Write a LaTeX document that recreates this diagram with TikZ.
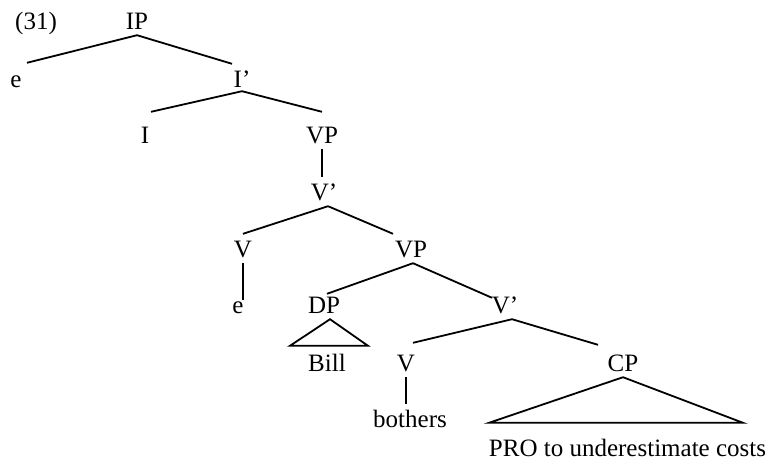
\documentclass[tikz,border=0pt]{standalone}
\usepackage{fontspec}
\setmainfont{Liberation Serif}
\begin{document}
\begin{tikzpicture}[x=1pt,y=-1pt,
  lab/.style={anchor=base, inner xsep=0pt, inner ysep=5pt, text height=18pt, text depth=1pt, font=\fontsize{25}{30}\selectfont},
  lc/.style={lab, text height=8pt},
  edge/.style={line width=1.8pt, line cap=butt}]
\useasboundingbox (0,0) rectangle (781,461);
% nodes
\node[lab, anchor=base west] (num) at (15,29) {(31)};
\node[lab] (IP) at (137,29) {IP};
\node[lab] (e1) at (16,87) {e};
\node[lab] (I1) at (242,87) {I’};
\node[lab] (I0) at (145,143) {I};
\node[lab] (VP1) at (322,143) {VP};
\node[lab] (V1) at (324,200) {V’};
\node[lab] (V0) at (243,257) {V};
\node[lab] (VP2) at (411,257) {VP};
\node[lc] (e2) at (238,313) {e};
\node[lab] (DP) at (324,313) {DP};
\node[lab] (V2) at (505,313) {V’};
\node[lab] (Bill) at (327,371) {Bill};
\node[lab] (V3) at (406,371) {V};
\node[lab] (CP) at (623,371) {CP};
\node[lab] (bothers) at (410,427) {bothers};
\node[lab] (PRO) at (627.5,456) {PRO to underestimate costs};
% connectors
\draw[edge] (IP.south) -- ([xshift=11pt,yshift=1pt]e1.north);
\draw[edge] (IP.south) -- ([xshift=-10pt]I1.north);
\draw[edge] ([yshift=2pt]I1.south) -- ([xshift=6pt,yshift=8pt]I0.north);
\draw[edge] ([yshift=2pt]I1.south) -- ([yshift=8pt]VP1.north);
\draw[edge] (VP1.south) -- (VP1.south |- V1.north);
\draw[edge] ([xshift=4pt]V1.south) -- (V0.north);
\draw[edge] ([xshift=4pt]V1.south) -- ([xshift=-18pt]VP2.north);
\draw[edge] (V0.south) -- (V0.south |- e2.north);
\draw[edge] ([xshift=2pt]VP2.south) -- ([xshift=3pt,yshift=-4pt]DP.north);
\draw[edge] ([xshift=2pt]VP2.south) -- ([xshift=-13pt,yshift=-8pt]V2.north);
\draw[edge, line join=miter] ([xshift=6pt]DP.south) -- ([xshift=-37pt,yshift=2pt]Bill.north) -- ([xshift=41pt,yshift=2pt]Bill.north) -- cycle;
\draw[edge] ([xshift=7pt]V2.south) -- ([xshift=7pt,yshift=5pt]V3.north);
\draw[edge] ([xshift=7pt]V2.south) -- ([xshift=-25pt,yshift=3pt]CP.north);
\draw[edge] (V3.south) -- (V3.south |- bothers.north);
\draw[edge, line join=miter] (CP.south) -- ([xshift=-138.5pt,yshift=10pt]PRO.north) -- ([xshift=115.5pt,yshift=10pt]PRO.north) -- cycle;
\end{tikzpicture}
\end{document}
